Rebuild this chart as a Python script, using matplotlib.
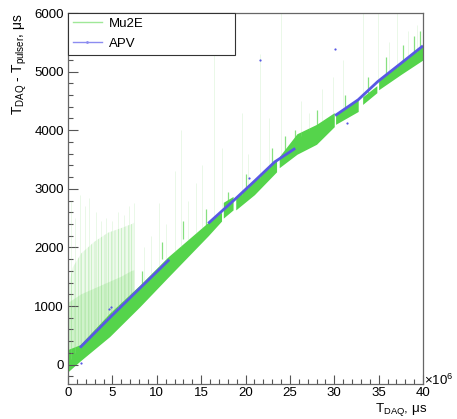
import numpy as np
import matplotlib
matplotlib.use("Agg")
import matplotlib.pyplot as plt
from matplotlib.lines import Line2D
from matplotlib.ticker import MultipleLocator

plt.rcParams['font.family'] = ['Liberation Sans', 'DejaVu Sans']
plt.rcParams['mathtext.fontset'] = 'custom'
plt.rcParams['mathtext.rm'] = 'Liberation Sans'
plt.rcParams['mathtext.it'] = 'Liberation Sans:italic'
plt.rcParams['hatch.linewidth'] = 0.4

# x values are in units of 1e6 us, y values in us

# Mu2E dense band, one list per continuous piece
band_x = [[0, 1.35, 4.7, 8.1, 11.2, 15.8, 17.3],
          [17.5, 18.6],
          [18.9, 21.0, 23.5],
          [23.8, 25.8, 28.0, 30.0],
          [30.15, 32.7],
          [33.2, 34.8],
          [35.0, 37.5, 40.0]]
band_lo = [[-120, 60, 480, 990, 1480, 2200, 2450],
           [2500, 2640],
           [2640, 2900, 3290],
           [3360, 3590, 3760, 4060],
           [4100, 4320],
           [4440, 4640],
           [4690, 4950, 5200]]
band_hi = [[260, 340, 880, 1360, 1830, 2430, 2600],
           [2770, 2870],
           [2850, 3150, 3500],
           [3550, 3940, 4100, 4300],
           [4260, 4530],
           [4570, 4760],
           [4870, 5160, 5450]]

# faint spread of Mu2E points at early times
fan_x = [0, 0.5, 1.5, 3.0, 4.5, 6.0, 7.2, 7.45]
fan_lo = [88, 150, 310, 530, 770, 1000, 1180, 1215]
fan_top = [1300, 1650, 1900, 2100, 2250, 2330, 2400, 2420]
fan_inner = [1050, 1100, 1200, 1300, 1400, 1500, 1600, 1610]

# faint vertical streaks (x, from, to)
streak_x = [0.3, 0.8, 1.3, 1.9, 2.4, 3.1, 3.7, 4.3, 5.0, 5.6, 6.3, 6.9, 7.4,
            8.6, 9.4, 10.2, 11.0, 12.1, 12.7, 13.5, 14.4, 15.1, 16.5, 17.3,
            19.6, 20.3, 21.6, 22.6, 24.0, 26.2, 27.1, 28.6, 29.9, 31.0, 33.2,
            34.9, 36.2, 37.1, 38.3, 39.3]
streak_lo = [100, 200, 280, 380, 450, 560, 650, 740, 840, 930, 1030, 1120, 1200,
             1380, 1500, 1620, 1740, 1920, 2000, 2120, 2250, 2330, 2500, 2600,
             2900, 3000, 3180, 3330, 3550, 3900, 4000, 4150, 4280, 4350, 4560,
             4800, 4960, 5070, 5220, 5340]
streak_hi = [2800, 2500, 2900, 2700, 2850, 2600, 2450, 2500, 2450, 2600, 2550, 2700, 2750,
             2000, 2200, 2750, 2400, 3300, 4000, 2800, 3100, 3400, 5900, 3700,
             4300, 3600, 5300, 4200, 6000, 4500, 4300, 4700, 4900, 5200, 6000,
             6000, 5500, 6000, 5700, 5800]

# short dense spikes sitting on the band
spike_x = [8.3, 10.6, 13.0, 15.5, 18.0, 20.0, 23.0, 24.5, 25.6, 28.0,
           31.2, 33.8, 35.8, 37.8, 39.0, 39.7]
spike_lo = [1320, 1800, 2150, 2380, 2750, 3000, 3400, 3620, 3700, 4050,
            4350, 4640, 4950, 5180, 5320, 5400]
spike_hi = [1600, 2100, 2450, 2650, 2950, 3250, 3700, 3900, 4000, 4350,
            4600, 4900, 5250, 5450, 5600, 5700]

# APV points, one list per continuous piece
apv_x = [[1.35, 4.7, 8.0, 11.4],
         [15.8, 18.8, 21.0, 23.3, 25.6],
         [30.1, 32.7, 34.9, 37.5, 40.0]]
apv_y = [[290, 800, 1290, 1790],
         [2410, 2820, 3130, 3460, 3690],
         [4250, 4520, 4830, 5140, 5440]]
apv_out_x = [1.5, 4.6, 4.9, 20.4, 21.6, 30.1, 31.4]
apv_out_y = [35, 955, 990, 3190, 5200, 5390, 4130]

green = '#55d44b'
blue = '#5858e4'

fig = plt.figure(figsize=(4.57, 4.19), dpi=100)
ax = fig.add_axes([68/457, 1 - 384/419, 355/457, 371/419])

ax.fill_between(fan_x, fan_lo, fan_top, facecolor='#eefaec', edgecolor='#b4ebae',
                hatch='|||||', lw=0)
ax.fill_between(fan_x, fan_lo, fan_inner, facecolor='#c9f1c3', edgecolor='#9fe196',
                hatch='|||||', lw=0, alpha=0.8)
ax.vlines(streak_x, streak_lo, streak_hi, color='#9ee296', lw=0.5, alpha=0.3)
ax.vlines(spike_x, spike_lo, spike_hi, color=green, lw=0.9, alpha=0.7)

for xs, lo, hi in zip(band_x, band_lo, band_hi):
    ax.fill_between(xs, lo, hi, color=green, lw=0)

for xs, ys in zip(apv_x, apv_y):
    ax.plot(xs, ys, color=blue, lw=2.0, solid_capstyle='butt')
ax.plot(apv_out_x, apv_out_y, 'o', color=blue, ms=1.6, mew=0)

ax.set_xlim(0, 40)
ax.set_ylim(-330, 6000)
ax.xaxis.set_major_locator(MultipleLocator(5))
ax.xaxis.set_minor_locator(MultipleLocator(1))
ax.yaxis.set_major_locator(MultipleLocator(1000))
ax.yaxis.set_minor_locator(MultipleLocator(200))
ax.tick_params(which='both', direction='in', top=False, right=False,
               color='#555555', labelsize=9.5, width=0.8)
ax.tick_params(axis='x', which='major', length=6.7, pad=2.5)
ax.tick_params(axis='x', which='minor', length=3.3)
ax.tick_params(axis='y', which='major', length=7.5, pad=3)
ax.tick_params(axis='y', which='minor', length=3.8)
for s in ax.spines.values():
    s.set_color('#666666')
    s.set_linewidth(0.9)

ax.set_xlabel(r'T$_{\rm DAQ}$, μs', fontsize=9.6, loc='right')
ax.xaxis.set_label_coords(1.012, -0.0905)
ax.xaxis.label.set_va('bottom')
ax.set_ylabel(r'T$_{\rm DAQ}$ - T$_{\rm pulser}$, μs', fontsize=10, loc='top', labelpad=4)
ax.text(1.002, -0.003, '×10$^{6}$', transform=ax.transAxes, fontsize=9.5,
        ha='left', va='baseline')

handles = [Line2D([0], [0], color='#9fe898', lw=1),
           Line2D([0], [0], color='#8c8cf0', lw=1, marker='.', ms=2)]
leg = ax.legend(handles, ['Mu2E', 'APV'], loc='upper left',
                bbox_to_anchor=(0, 0.881, 0.47, 0.119), mode='expand',
                borderaxespad=0, fancybox=False, framealpha=1, edgecolor='#333333',
                fontsize=9.5, handlelength=2.2, handletextpad=0.55,
                labelspacing=0.6, borderpad=0.35)
leg.get_frame().set_linewidth(0.8)

fig.savefig('out.png', dpi=100)
